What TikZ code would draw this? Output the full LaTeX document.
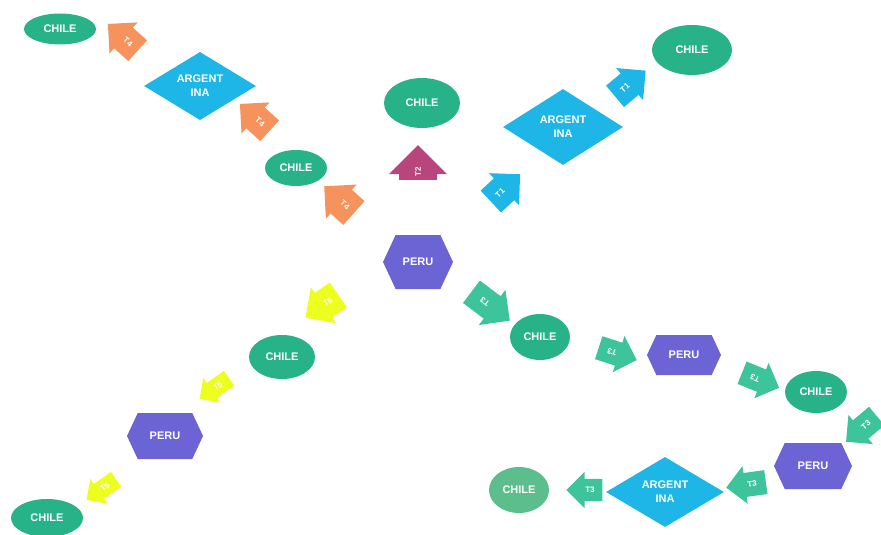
\documentclass[tikz,border=0pt]{standalone}
\usepackage{fontspec}
\setmainfont{Liberation Sans}
\usetikzlibrary{shapes.geometric,shapes.arrows,shapes.symbols}
\definecolor{chilegreen}{RGB}{40,178,136}
\definecolor{chilelight}{RGB}{92,190,140}
\definecolor{peruviolet}{RGB}{108,100,212}
\definecolor{argcyan}{RGB}{30,182,230}
\definecolor{orangeT}{RGB}{246,146,92}
\definecolor{magentaT}{RGB}{184,70,124}
\definecolor{greenT}{RGB}{62,196,155}
\definecolor{yellowT}{RGB}{236,255,30}

\begin{document}
\begin{tikzpicture}[x=1pt,y=-1pt]
	\tikzstyle{txt} = [text=white, font=\bfseries\fontsize{11}{14}\selectfont, align=center, inner sep=0pt];
	\tikzstyle{chile} = [txt, ellipse, fill=chilegreen];
	\tikzstyle{peru} = [txt, signal, signal to=east and west, signal pointer angle=130, fill=peruviolet];
	\tikzstyle{argentina} = [txt, diamond, fill=argcyan];
	\tikzstyle{tarrow} = [txt, font=\bfseries\fontsize{8}{9}\selectfont, single arrow, single arrow head indent=0pt, inner xsep=3pt];
	\tikzstyle{big} = [inner ysep=13pt, single arrow head extend=7pt, minimum height=40];
	\tikzstyle{small} = [inner ysep=9pt, single arrow head extend=7pt, minimum height=40];
	\useasboundingbox (0,0) rectangle (881,535);
	
	\draw node [chile, minimum width=72, minimum height=31] (chile1) at (60,29) {CHILE};
	\draw node [argentina, minimum width=112, minimum height=68] (arg1) at (200,86) {ARGENT\\INA};
	\draw node [chile, minimum width=62, minimum height=36] (chile2) at (296,168) {CHILE};
	\draw node [chile, minimum width=76, minimum height=50] (chile3) at (422,103) {CHILE};
	\draw node [peru, minimum width=70, minimum height=54] (peru1) at (418,262) {PERU};
	\draw node [argentina, minimum width=120, minimum height=76] (arg2) at (563,127) {ARGENT\\INA};
	\draw node [chile, minimum width=80, minimum height=50] (chile4) at (692,50) {CHILE};
	\draw node [chile, minimum width=60, minimum height=46] (chile5) at (540,337) {CHILE};
	\draw node [peru, minimum width=74, minimum height=40] (peru2) at (684,355) {PERU};
	\draw node [chile, minimum width=62, minimum height=42] (chile6) at (816,392) {CHILE};
	\draw node [peru, minimum width=78, minimum height=46] (peru3) at (813,466) {PERU};
	\draw node [argentina, minimum width=118, minimum height=70] (arg3) at (665,492) {ARGENT\\INA};
	\draw node [chile, fill=chilelight, minimum width=60, minimum height=46] (chile7) at (519,490) {CHILE};
	\draw node [chile, minimum width=66, minimum height=44] (chile8) at (282,357) {CHILE};
	\draw node [peru, minimum width=76, minimum height=46] (peru4) at (165,436) {PERU};
	\draw node [chile, minimum width=72, minimum height=38] (chile9) at (47,518) {CHILE};
	
	% fleches
	\draw node [tarrow, big, fill=orangeT, rotate=-42, shape border rotate=180] (t4a) at (345,205) {T4};
	\draw node [tarrow, big, fill=orangeT, rotate=-42, shape border rotate=180, inner ysep=11pt] (t4b) at (260,122) {T4};
	\draw node [tarrow, big, fill=orangeT, rotate=-42, shape border rotate=180, inner ysep=11pt] (t4c) at (128,42) {T4};
	\draw node [tarrow, big, fill=magentaT, rotate=90, inner ysep=16pt, single arrow head extend=10pt, minimum height=32] (t2) at (418,172) {T2};
	\draw node [tarrow, big, fill=argcyan, rotate=43, inner ysep=12pt] (t1a) at (500,193) {T1};
	\draw node [tarrow, big, fill=argcyan, rotate=40, inner ysep=11pt] (t1b) at (625,88) {T1};
	\draw node [tarrow, big, fill=greenT, rotate=143, shape border rotate=180, inner ysep=11pt, single arrow head extend=8pt, minimum height=48] (t3a) at (485,302) {T3};
	\draw node [tarrow, small, fill=greenT, rotate=162, shape border rotate=180] (t3b) at (612,352) {T3};
	\draw node [tarrow, small, fill=greenT, rotate=158, shape border rotate=180] (t3c) at (755,378) {T3};
	\draw node [tarrow, small, fill=greenT, rotate=40, shape border rotate=180] (t3d) at (866,425) {T3};
	\draw node [tarrow, small, fill=greenT, rotate=8, shape border rotate=180] (t3e) at (752,484) {T3};
	\draw node [tarrow, small, fill=greenT, rotate=0, shape border rotate=180, inner ysep=8pt, minimum height=36] (t3f) at (590,490) {T3};
	\draw node [tarrow, big, fill=yellowT, rotate=35, shape border rotate=180, inner ysep=12pt] (t5a) at (328,302) {T5};
	\draw node [tarrow, small, fill=yellowT, rotate=35, shape border rotate=180, inner ysep=6pt, single arrow head extend=6pt, minimum height=36] (t5b) at (218,386) {T5};
	\draw node [tarrow, small, fill=yellowT, rotate=35, shape border rotate=180, inner ysep=6pt, single arrow head extend=6pt, minimum height=36] (t5c) at (105,487) {T5};
	
\end{tikzpicture}
\end{document}
